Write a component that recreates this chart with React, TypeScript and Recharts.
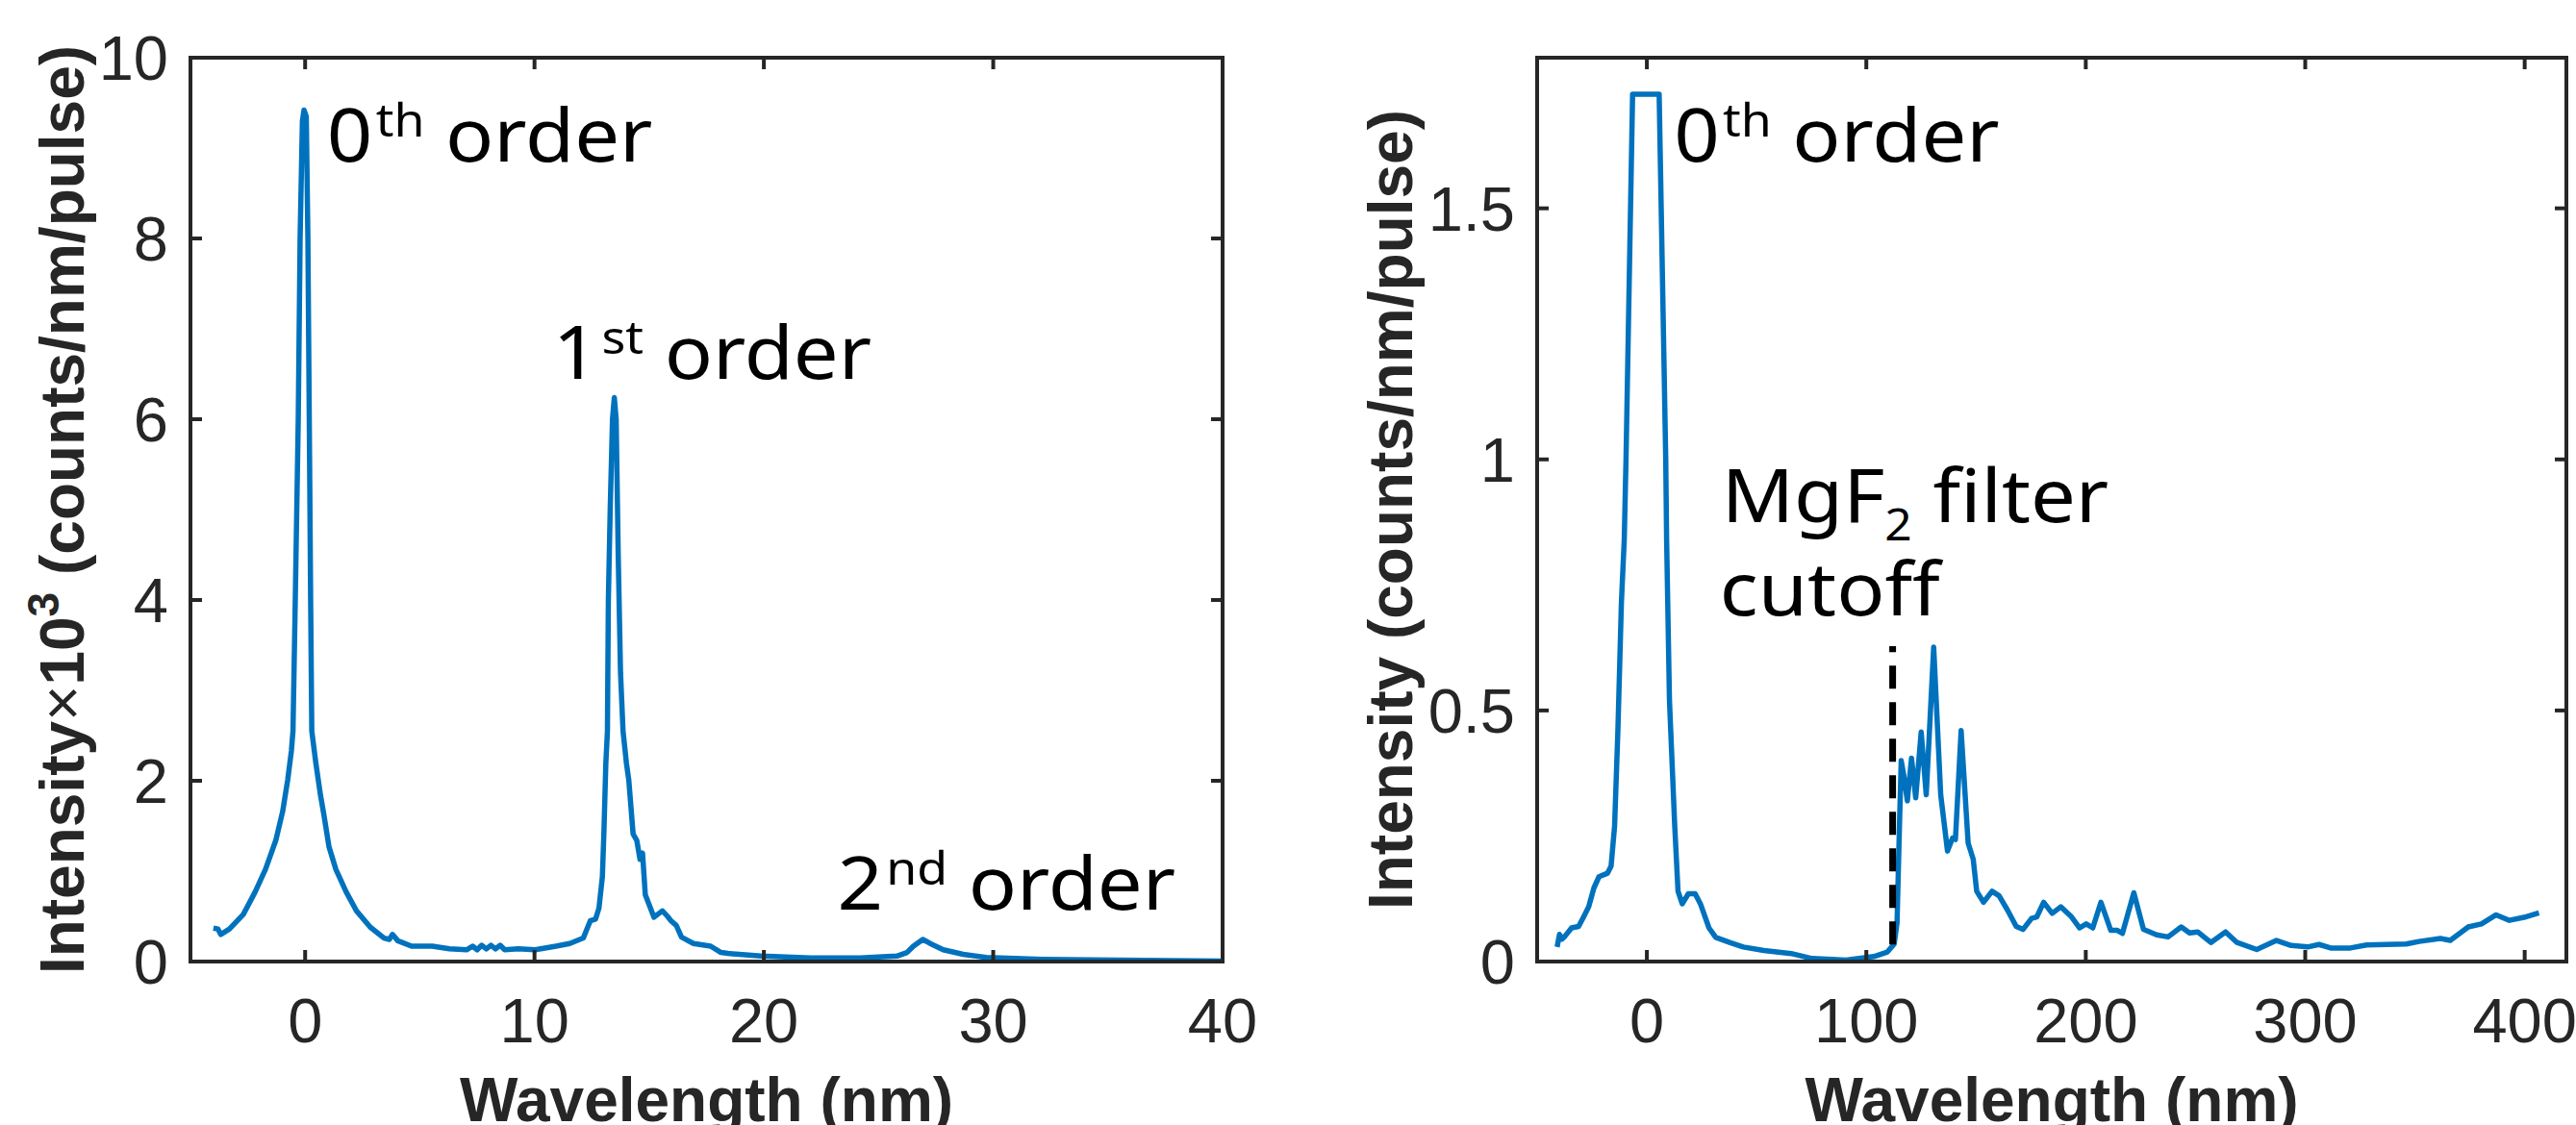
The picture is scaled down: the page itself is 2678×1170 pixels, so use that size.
import React from 'react';
import { LineChart, Line, XAxis, YAxis, ReferenceDot, ReferenceLine } from 'recharts';

const AXIS = '#262626';
const BLUE = '#0072BD';
const TICK_FONT = "'Liberation Sans', Arial, Helvetica, sans-serif";
const NOTE_FONT = "'Noto Sans', 'Open Sans', sans-serif";
const TICK_LEN = 12;

// left panel: grating spectrum, intensity x10^3 vs wavelength (nm)
const leftWavelength = [
  -4.0, -3.8, -3.68, -3.3, -2.7, -2.18, -1.73, -1.28, -0.98, -0.76, -0.6, -0.53, -0.43, -0.3, -0.22, -0.12,
  -0.05, 0.05, 0.12, 0.18, 0.24, 0.29, 0.47, 0.67, 0.82, 1.04, 1.34, 1.79, 2.24, 2.84, 3.44, 3.67, 3.81, 4.04,
  4.64, 5.54, 6.29, 7.04, 7.3, 7.5, 7.7, 7.9, 8.1, 8.3, 8.5, 8.7, 9.29, 10.03, 10.94, 11.54, 12.13, 12.43,
  12.66, 12.81, 12.96, 13.03, 13.11, 13.18, 13.22, 13.3, 13.4, 13.48, 13.56, 13.65, 13.75, 13.86, 14.01, 14.11,
  14.3, 14.46, 14.6, 14.71, 14.83, 15.21, 15.36, 15.58, 15.8, 15.95, 16.18, 16.41, 16.93, 17.68, 18.13, 18.43,
  19.88, 22.04, 24.2, 25.8, 26.24, 26.52, 26.93, 27.25, 27.82, 28.69, 29.7, 32.16, 36.5, 40.0,
];
const leftIntensity = [
  0.37, 0.36, 0.3, 0.36, 0.52, 0.77, 1.02, 1.34, 1.66, 2.01, 2.33, 2.55, 4.0, 6.0, 8.0, 9.3,
  9.42, 9.35, 8.0, 6.0, 4.0, 2.55, 2.19, 1.84, 1.62, 1.27, 1.02, 0.77, 0.56, 0.38, 0.26, 0.245, 0.3, 0.23,
  0.17, 0.17, 0.14, 0.13, 0.17, 0.13, 0.18, 0.14, 0.18, 0.14, 0.18, 0.13, 0.14, 0.13, 0.17, 0.2, 0.26, 0.45,
  0.47, 0.59, 0.94, 1.46, 2.19, 2.55, 4.0, 5.0, 6.0, 6.24, 6.0, 4.5, 3.2, 2.55, 2.19, 2.01,
  1.41, 1.34, 1.13, 1.2, 0.74, 0.49, 0.52, 0.56, 0.5, 0.45, 0.4, 0.27, 0.2, 0.17, 0.1, 0.09,
  0.06, 0.04, 0.04, 0.06, 0.1, 0.17, 0.245, 0.2, 0.13, 0.08, 0.045, 0.025, 0.012, 0.005,
];

// right panel: spectrum through the MgF2 filter, counts/nm/pulse
const rightWavelength = [
  -40.9, -39.8, -38.6, -37.4, -34.3, -31.1, -28.8, -26.5, -24.1, -21.8, -17.9, -16.3, -14.7, -13.2, -11.6, -10.3,
  -9.5, -6.5, 5.6, 8.6, 9.0, 10.3, 12.7, 14.2, 16.1, 18.9, 22.0, 24.4, 28.3, 31.4, 37.7, 43.9, 53.3, 65.8,
  75.2, 90.8, 103.4, 109.6, 112.7, 114.0, 115.1, 115.9, 117.1, 118.7, 120.6, 122.5, 125.0, 127.3, 130.7, 133.9,
  137.0, 139.3, 140.6, 143.2, 146.4, 148.7, 150.3, 153.4, 157.3, 160.5, 164.4, 168.3, 171.4, 175.3, 177.7, 180.8,
  184.7, 188.6, 193.5, 197.2, 200.2, 203.2, 206.9, 211.4, 214.4, 216.7, 221.9, 226.3, 232.3, 237.5, 243.5, 247.3,
  251.0, 257.0, 263.7, 268.9, 277.9, 286.9, 293.6, 301.1, 306.3, 311.6, 320.6, 328.0, 346.0, 351.9, 361.6, 366.1,
  374.3, 380.3, 387.0, 393.0, 399.7, 406.5,
];
const rightIntensity = [
  0.029, 0.054, 0.045, 0.05, 0.067, 0.07, 0.089, 0.109, 0.147, 0.169, 0.176, 0.19, 0.27, 0.46, 0.715, 0.84,
  1.0, 1.727, 1.727, 1.0, 0.84, 0.52, 0.27, 0.14, 0.115, 0.135, 0.135, 0.115, 0.067, 0.048, 0.038, 0.029, 0.022, 0.016,
  0.006, 0.003, 0.01, 0.019, 0.035, 0.077, 0.27, 0.4, 0.37, 0.32, 0.405, 0.326, 0.457, 0.332, 0.626, 0.332,
  0.22, 0.246, 0.243, 0.46, 0.236, 0.204, 0.14, 0.118, 0.14, 0.131, 0.102, 0.07, 0.064, 0.086, 0.089, 0.118,
  0.096, 0.109, 0.089, 0.067, 0.075, 0.067, 0.118, 0.062, 0.062, 0.056, 0.137, 0.064, 0.053, 0.049, 0.069, 0.057,
  0.059, 0.038, 0.059, 0.038, 0.024, 0.042, 0.032, 0.029, 0.034, 0.027, 0.027, 0.033, 0.035, 0.04, 0.046, 0.042,
  0.069, 0.075, 0.093, 0.082, 0.088, 0.097,
];

const leftTicksX = [0, 10, 20, 30, 40];
const leftTicksY = [0, 2, 4, 6, 8, 10];
const rightTicksX = [0, 100, 200, 300, 400];
const rightTicksY = [0, 0.5, 1, 1.5];

// annotation anchors (text start, baseline) in data units
const leftNotes = [
  { x: 0.95, y: 8.85, main: '0', sup: 'th', rest: ' order' },
  { x: 10.8, y: 6.45, main: '1', sup: 'st', rest: ' order' },
  { x: 23.2, y: 0.57, main: '2', sup: 'nd', rest: ' order' },
];
const rightNotes = [
  { x: 12.3, y: 1.594, main: '0', sup: 'th', rest: ' order' },
  { x: 34.0, y: 0.875, main: 'MgF', sub: '2', rest: ' filter' },
  { x: 33.2, y: 0.69, main: 'cutoff', rest: '' },
];
const cutoffWavelength = 112;
const cutoffSpan = [0.034, 0.628];

const leftData = leftWavelength.map((x, i) => ({ x, y: leftIntensity[i] }));
const rightData = rightWavelength.map((x, i) => ({ x, y: rightIntensity[i] }));

function Note({ viewBox, main, sup, sub, rest }: any) {
  const x = viewBox.x + viewBox.width / 2;
  const y = viewBox.y + viewBox.height / 2;
  const back = sup ? 26 : sub ? -19 : 0;
  return (
    <g transform={`translate(${x},${y}) scale(1.08,1)`}>
      <text x={0} y={0} fontFamily={NOTE_FONT} fontSize={77} fill="#000" style={{ whiteSpace: 'pre' }}>
        <tspan>{main}</tspan>
        {sup && <tspan fontSize={48} dx={3} dy={-26}>{sup}</tspan>}
        {sub && <tspan fontSize={46} dy={19}>{sub}</tspan>}
        {rest && <tspan dy={back}>{rest}</tspan>}
      </text>
    </g>
  );
}

// inward tick marks (MATLAB style) drawn together with the labels
const BOTTOM_GAP = 38;
const LEFT_GAP = 23;

const BottomTick = ({ x, y, payload }: any) => (
  <g>
    <line x1={x} x2={x} y1={y - BOTTOM_GAP} y2={y - BOTTOM_GAP - TICK_LEN} stroke={AXIS} strokeWidth={4} />
    <text x={x} y={y} dy="0.71em" textAnchor="middle" fill={AXIS} fontSize={65} fontFamily={TICK_FONT}>
      {payload.value}
    </text>
  </g>
);
const TopTick = ({ x, y }: any) => (
  <line x1={x} x2={x} y1={y} y2={y + TICK_LEN} stroke={AXIS} strokeWidth={4} />
);
const LeftTick = ({ x, y, payload }: any) => (
  <g>
    <line x1={x + LEFT_GAP} x2={x + LEFT_GAP + TICK_LEN} y1={y} y2={y} stroke={AXIS} strokeWidth={4} />
    <text x={x} y={y} dy="0.355em" textAnchor="end" fill={AXIS} fontSize={65} fontFamily={TICK_FONT}>
      {payload.value}
    </text>
  </g>
);
const RightTick = ({ x, y }: any) => (
  <line x1={x} x2={x - TICK_LEN} y1={y} y2={y} stroke={AXIS} strokeWidth={4} />
);

const xTitle = ({ viewBox }: any) => (
  <text x={viewBox.x + viewBox.width / 2} y={viewBox.y + 166} textAnchor="middle"
    fontFamily={TICK_FONT} fontWeight="bold" fontSize={64} fill={AXIS}>
    Wavelength (nm)
  </text>
);

const leftYTitle = ({ viewBox }: any) => (
  <text transform={`translate(${viewBox.x + 87},${viewBox.y + viewBox.height / 2}) rotate(-90)`}
    textAnchor="middle" fontFamily={TICK_FONT} fontWeight="bold" fontSize={64} fill={AXIS}
    style={{ whiteSpace: 'pre' }}>
    Intensity<tspan fontWeight="normal">×</tspan>10<tspan fontSize={46} dy={-26}>3</tspan>
    <tspan dy={26}> (counts/nm/pulse)</tspan>
  </text>
);

const rightYTitle = ({ viewBox }: any) => (
  <text transform={`translate(${viewBox.x + 128},${viewBox.y + viewBox.height / 2}) rotate(-90)`}
    textAnchor="middle" fontFamily={TICK_FONT} fontWeight="bold" fontSize={64} fill={AXIS}>
    Intensity (counts/nm/pulse)
  </text>
);

const lineStyle = { stroke: AXIS, strokeWidth: 4, strokeLinecap: 'square' as const };

function Panel({ data, xDomain, yDomain, xTicks, yTicks, width, axisWidth, rightMargin, yTitle, notes, children }: any) {
  return (
    <LineChart width={width} height={1170} data={data}
      margin={{ top: 59, right: rightMargin - 1, left: 0, bottom: 0 }}>
      <XAxis xAxisId="b" dataKey="x" type="number" domain={xDomain} ticks={xTicks} allowDataOverflow
        interval={0} height={170} tickSize={0} tickMargin={BOTTOM_GAP} tick={<BottomTick />}
        axisLine={lineStyle} tickLine={false} label={xTitle} />
      <XAxis xAxisId="t" orientation="top" dataKey="x" type="number" domain={xDomain} ticks={xTicks}
        allowDataOverflow interval={0} height={1} tickSize={0} tickMargin={0} tick={<TopTick />}
        axisLine={lineStyle} tickLine={false} />
      <YAxis yAxisId="l" type="number" domain={yDomain} ticks={yTicks} allowDataOverflow interval={0}
        width={axisWidth} tickSize={0} tickMargin={LEFT_GAP} tick={<LeftTick />}
        axisLine={lineStyle} tickLine={false} label={yTitle} />
      <YAxis yAxisId="r" orientation="right" type="number" domain={yDomain} ticks={yTicks}
        allowDataOverflow interval={0} width={1} tickSize={0} tickMargin={0} tick={<RightTick />}
        axisLine={lineStyle} tickLine={false} />
      {/* invisible twin so the box axes (top / right) get a domain */}
      <Line xAxisId="t" yAxisId="r" type="linear" dataKey="y" stroke="none" strokeWidth={0}
        dot={false} activeDot={false} legendType="none" isAnimationActive={false} />
      <Line xAxisId="b" yAxisId="l" type="linear" dataKey="y" stroke={BLUE} strokeWidth={5.5}
        strokeLinejoin="round" dot={false} activeDot={false} isAnimationActive={false} />
      {children}
      {notes.map((n: any, i: number) => (
        <ReferenceDot key={i} xAxisId="b" yAxisId="l" x={n.x} y={n.y} r={2} fill="none" stroke="none"
          label={(p: any) => <Note viewBox={p.viewBox} {...n} />} />
      ))}
    </LineChart>
  );
}

export default function App() {
  return (
    <div style={{ position: 'absolute', left: 0, top: 0, width: 2678, height: 1170, background: '#fff' }}>
      <div style={{ position: 'absolute', left: 0, top: 0 }}>
        <Panel data={leftData} xDomain={[-5, 40]} yDomain={[0, 10]} xTicks={leftTicksX} yTicks={leftTicksY}
          width={1340} axisWidth={198} rightMargin={69} yTitle={leftYTitle} notes={leftNotes} />
      </div>
      <div style={{ position: 'absolute', left: 1340, top: 0 }}>
        <Panel data={rightData} xDomain={[-50, 419]} yDomain={[0, 1.8]} xTicks={rightTicksX} yTicks={rightTicksY}
          width={1338} axisWidth={258} rightMargin={10} yTitle={rightYTitle} notes={rightNotes}>
          <ReferenceLine xAxisId="b" yAxisId="l" stroke="#000" strokeWidth={7} strokeDasharray="24 14"
            segment={[{ x: cutoffWavelength, y: cutoffSpan[0] }, { x: cutoffWavelength, y: cutoffSpan[1] }]} />
        </Panel>
      </div>
    </div>
  );
}
